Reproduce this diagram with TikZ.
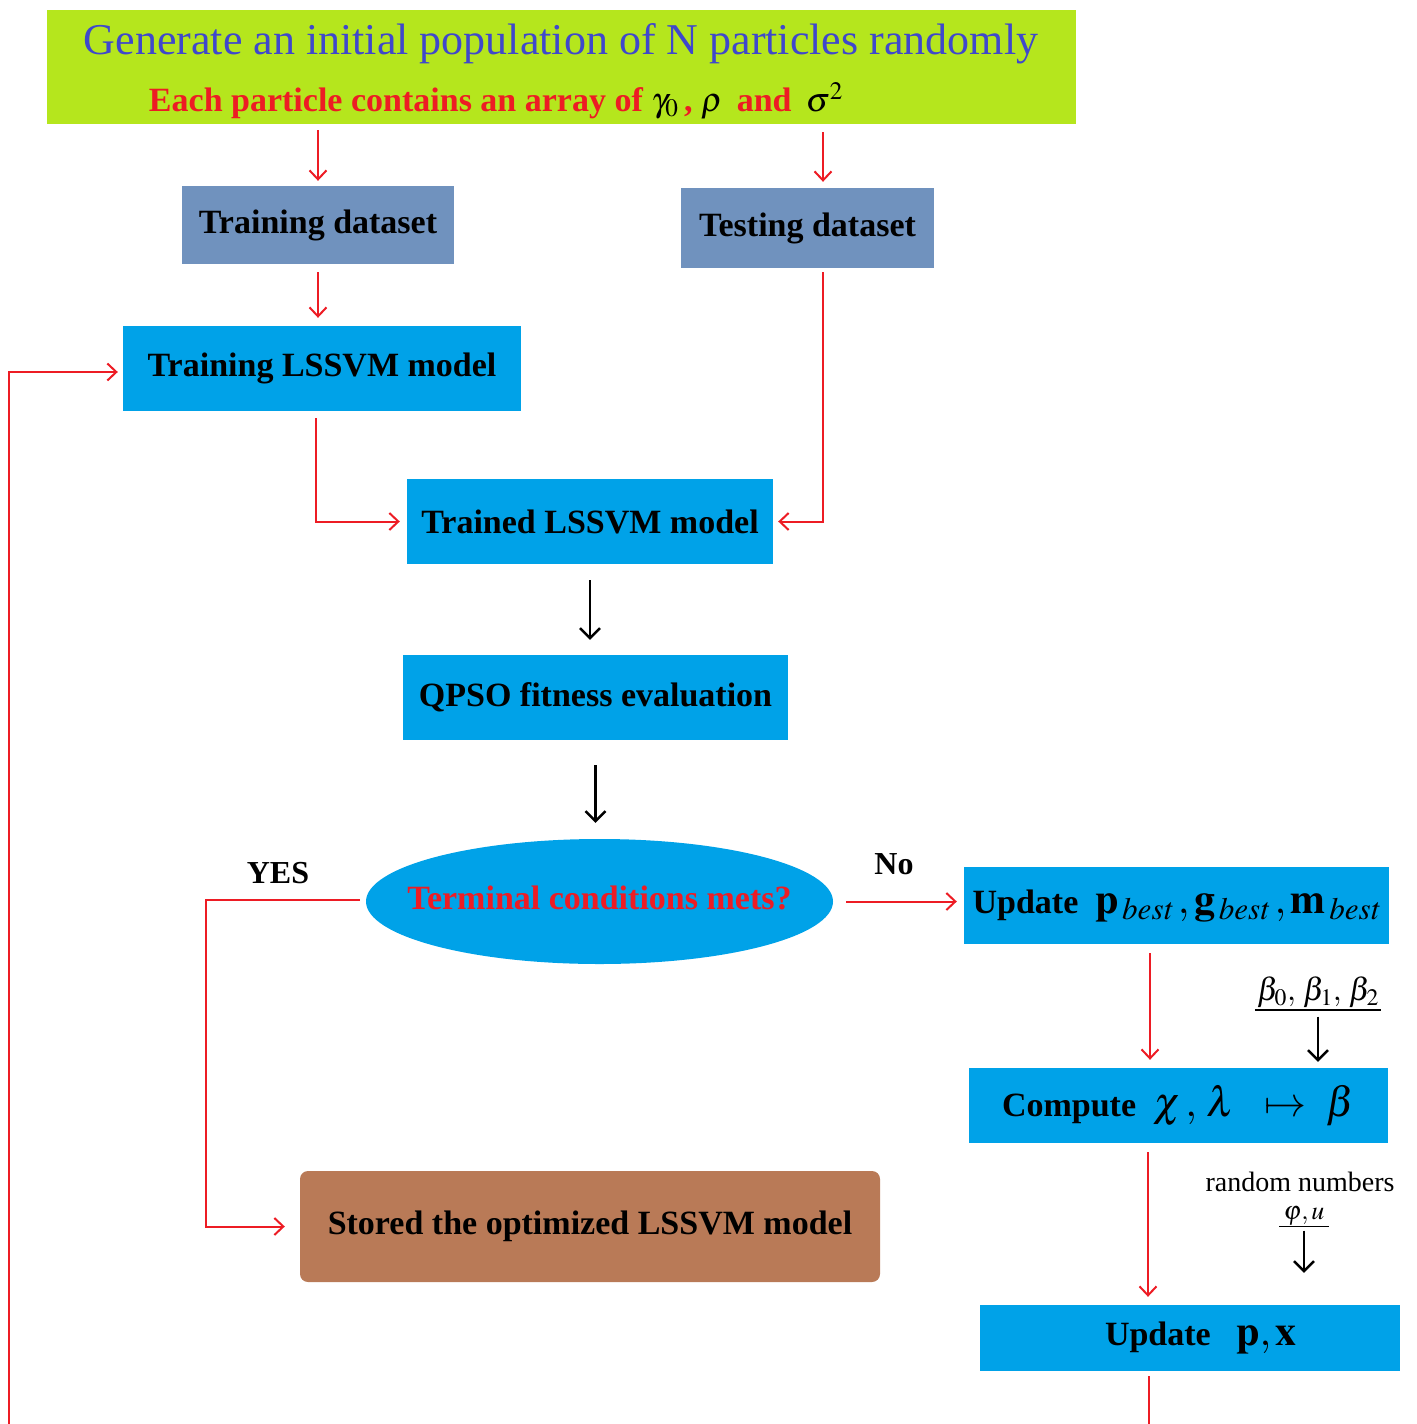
\documentclass[tikz,border=0pt]{standalone}
\usepackage{mathptmx}
\usepackage{fontspec}
\setmainfont{Liberation Serif}
\usetikzlibrary{arrows.meta, shapes.geometric, calc}
\definecolor{initgreen}{RGB}{181,230,29}
\definecolor{titleblue}{RGB}{63,72,204}
\definecolor{arrowred}{RGB}{237,28,36}
\definecolor{datablue}{RGB}{112,146,190}
\definecolor{skyblue}{RGB}{0,162,232}
\definecolor{storebrown}{RGB}{185,122,87}
\newcommand{\boxfont}{\fontsize{34}{40}\selectfont\bfseries}
\newcommand{\bigmath}{\fontsize{42}{48}\selectfont}

\begin{document}
\begin{tikzpicture}[x=1pt, y=-1pt,
  box/.style={fill=skyblue, inner sep=0pt, font=\boxfont},
  redarrow/.style={draw=arrowred, line width=2pt, -{Straight Barb[length=9pt,width=17pt,line width=2pt]}},
  blackarrow/.style={draw=black, line width=2.4pt, -{Straight Barb[length=10pt,width=20pt,line width=2.4pt]}}]
  \useasboundingbox (0,0) rectangle (1416,1424);

  % initial population
  \node[fill=initgreen, minimum width=1029pt, minimum height=114pt, inner sep=0pt] (init) at (561.5,67) {};
  \node[titleblue, font=\fontsize{44}{50}\selectfont] (title) at (561,44) {Generate an initial population of N particles randomly};
  \node[arrowred, font=\fontsize{34}{40}\selectfont\bfseries] (params) at (496,101)
       {Each particle contains an array of {\color{black}$\gamma_0$}\,, {\color{black}$\rho$}\ \,and\ \,{\color{black}$\sigma^2$}};

  % datasets
  \node[box, fill=datablue, minimum width=272pt, minimum height=78pt] (train) at (318,225) {Training dataset};
  \node[box, fill=datablue, minimum width=253pt, minimum height=80pt] (test) at (807.5,228) {Testing dataset};
  \coordinate (tcol) at ([xshift=15.5pt]test.north);

  % models
  \node[box, minimum width=398pt, minimum height=85pt] (trainLS) at (322,368.5) {Training LSSVM model};
  \node[box, minimum width=366pt, minimum height=85pt] (trained) at (590,521.5) {Trained LSSVM model};
  \node[box, minimum width=385pt, minimum height=85pt] (qpso) at (595.5,697.5) {QPSO fitness evaluation};
  \node[ellipse, fill=skyblue, minimum width=467pt, minimum height=125pt, inner sep=0pt,
        label={[font=\boxfont, text=arrowred, yshift=4pt]center:Terminal conditions mets?}] (ell) at (599.5,901.5) {};
  \node[box, fill=storebrown, rounded corners=8pt, minimum width=580pt, minimum height=111pt] (stored) at (590,1226.5)
       {Stored the optimized LSSVM model};

  % QPSO update steps
  \node[box, minimum width=425pt, minimum height=77pt] (upbest) at (1176.5,905.5)
       {Update\ \ {\bigmath$\mathbf{p}_{\,\mathit{best}}\,,\mathbf{g}_{\,\mathit{best}}\,,\mathbf{m}_{\,\mathit{best}}$}};
  \node[box, minimum width=419pt, minimum height=75pt] (compute) at (1178.5,1105.5)
       {Compute\ \ {\bigmath$\chi\,,\,\lambda\ \ \mapsto\ \beta$}\hspace{30pt}};
  \node[box, minimum width=420pt, minimum height=66pt] (updpx) at (1190,1338)
       {\hspace{22pt}Update\ \ \ {\bigmath$\mathbf{p},\mathbf{x}$}};

  % side labels
  \node[font=\fontsize{32}{36}\selectfont\bfseries] (yes) at (278,873) {YES};
  \node[font=\fontsize{32}{36}\selectfont\bfseries] (no) at (894,864) {No};
  \node[font=\fontsize{32}{36}\selectfont, inner xsep=2pt, inner ysep=2pt] (betas) at (1318,992) {$\beta_0,\,\beta_1,\,\beta_2$};
  \node[font=\fontsize{28}{32}\selectfont, inner sep=1pt] (rnd) at (1300,1182) {random numbers};
  \node[font=\fontsize{26}{30}\selectfont, inner xsep=4pt, inner ysep=1pt] (phiu) at (1304,1216) {$\varphi,u$};
  \draw[line width=1.8pt] (betas.south west) -- (betas.south east);
  \draw[line width=1.8pt] (phiu.south west) -- (phiu.south east);

  % free ends at the lower edge
  \coordinate (exit) at (1149,1424);
  \coordinate (loopin) at (9,1424);

  % connectors
  \draw[redarrow, shorten <=6pt, shorten >=5pt] (init.south -| train.north) -- (train.north);
  \draw[redarrow, shorten <=8pt, shorten >=6pt] (init.south -| tcol) -- (tcol);
  \draw[redarrow, shorten <=8pt, shorten >=8pt] (train.south) -- (train.south |- trainLS.north);
  \draw[redarrow, shorten <=7pt, shorten >=7pt] ([xshift=-6pt]trainLS.south) |- (trained.west);
  \draw[redarrow, shorten <=4pt, shorten >=5pt] ([xshift=15.5pt]test.south) |- (trained.east);
  \draw[blackarrow, shorten <=16pt, shorten >=15pt] (trained.south) -- (trained.south |- qpso.north);
  \draw[blackarrow, shorten <=25pt, shorten >=16pt] (qpso.south) -- (qpso.south |- ell.north);
  \draw[redarrow, shorten <=6pt, shorten >=15pt] ([yshift=2pt]ell.west) -- ++(-160,0) |- (stored.west);
  \draw[redarrow, shorten <=13pt, shorten >=7pt] (ell.east) -- (ell.east -| upbest.west);
  \draw[redarrow, shorten <=9pt, shorten >=8pt] ([xshift=-26.5pt]upbest.south) -- ([xshift=-26.5pt]upbest.south |- compute.north);
  \draw[blackarrow, shorten <=7pt, shorten >=6pt] (betas.south) -- (betas.south |- compute.north);
  \draw[redarrow, shorten <=9pt, shorten >=8pt] ([xshift=-30.5pt]compute.south) -- ([xshift=-30.5pt]compute.south |- updpx.north);
  \draw[blackarrow, shorten <=4pt, shorten >=32pt] (phiu.south) -- (phiu.south |- updpx.north);
  \draw[draw=arrowred, line width=2pt, shorten <=5pt] (updpx.south -| exit) -- (exit);
  \draw[redarrow, shorten >=5pt] (loopin) |- ([yshift=-3.5pt]trainLS.west);
\end{tikzpicture}
\end{document}
